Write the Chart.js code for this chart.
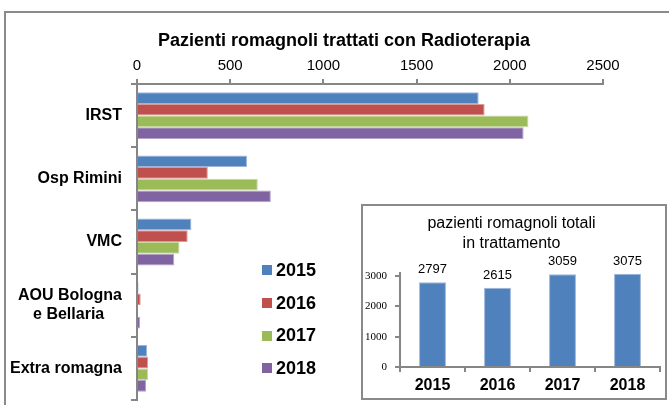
<!DOCTYPE html>
<html><head><meta charset="utf-8">
<script src="https://cdn.jsdelivr.net/npm/chart.js@4/dist/chart.umd.min.js"></script>
<style>
html,body{margin:0;padding:0;background:#fff;overflow:hidden;width:669px;height:405px;}
#frame{position:absolute;left:4px;top:11px;width:700px;height:500px;border:2px solid #8a8a8a;box-sizing:border-box;}
#main{position:absolute;left:0;top:0;}
#title{position:absolute;left:0;top:29px;width:688px;text-align:center;font:bold 18px "Liberation Sans",Arial,sans-serif;line-height:22px;color:#000;white-space:nowrap;}
#legend{position:absolute;left:262px;top:254px;font:bold 18px "Liberation Sans",Arial,sans-serif;color:#000;}
.li{display:flex;align-items:center;height:32.7px;}
.sw{width:10px;height:10px;margin-right:4px;}
#insetBox{position:absolute;left:361px;top:204px;width:306px;height:196px;border:2px solid #8a8a8a;box-sizing:border-box;background:#fff;}
#inset{position:absolute;left:0;top:0;}
</style></head>
<body>
<div id="frame"></div>
<canvas id="main" width="669" height="405"></canvas>
<div id="title"></div>
<div id="legend"></div>
<div id="insetBox"><canvas id="inset" width="302" height="192"></canvas></div>
<script>
const categories = ['IRST', 'Osp Rimini', 'VMC', ['AOU Bologna', 'e Bellaria\u00A0\u00A0\u00A0\u00A0'], 'Extra romagna'];
const years = ['2015', '2016', '2017', '2018'];
const v2015 = [1833, 590, 292, 8, 55];
const v2016 = [1865, 380, 272, 20, 60];
const v2017 = [2100, 648, 228, 5, 60];
const v2018 = [2074, 718, 200, 17, 49];
const totals = [2797, 2615, 3059, 3075];
const mainTicks = [0, 500, 1000, 1500, 2000, 2500];
const insetTicks = [0, 1000, 2000, 3000];
const mainTitle = 'Pazienti romagnoli trattati con Radioterapia';
const insetTitle = ['pazienti romagnoli totali', 'in trattamento'];

const colors = ['#4F81BD', '#C0504D', '#9BBB59', '#8064A2'];
const borders = ['#9DB6DA', '#DA9A98', '#C6DA9F', '#B3A2C9'];
const AXIS = '#868686';
const SANS = '"Liberation Sans", Arial, sans-serif';
const SERIF = '"Liberation Serif", "Times New Roman", serif';

document.getElementById('title').textContent = mainTitle;

const series = [v2015, v2016, v2017, v2018];
const mainChart = new Chart(document.getElementById('main'), {
  type: 'bar',
  data: {
    labels: categories,
    datasets: series.map((s, i) => ({
      label: years[i], data: s, backgroundColor: colors[i], borderColor: borders[i],
      borderWidth: 1, barPercentage: 1, categoryPercentage: 0.74
    }))
  },
  options: {
    indexAxis: 'y', responsive: false, animation: false, devicePixelRatio: 1,
    layout: { padding: { left: 0, right: 66, top: 57, bottom: 5 } },
    plugins: {
      legend: { display: false }, tooltip: { enabled: false }, title: { display: false }
    },
    scales: {
      x: {
        position: 'top', min: 0, max: 2500,
        afterBuildTicks: s => { s.ticks = mainTicks.map(v => ({ value: v })); },
        ticks: { color: '#000', font: { family: SANS, size: 15 }, padding: 4, callback: v => String(v) },
        grid: { drawOnChartArea: false, drawTicks: true, tickLength: 5, color: AXIS, lineWidth: 2 },
        border: { color: AXIS, width: 2 },
        afterFit: s => { s.height = 27; s.paddingLeft = 0; s.paddingRight = 0; }
      },
      y: {
        ticks: { color: '#000', font: { family: SANS, size: 16, weight: 'bold' }, padding: 9 },
        grid: { drawOnChartArea: false, drawTicks: true, tickLength: 6, color: AXIS, lineWidth: 2, offset: true },
        border: { color: AXIS, width: 2 },
        afterFit: s => { s.width = 137; s.paddingTop = 0; s.paddingBottom = 0; }
      }
    }
  }
});

// HTML legend built from the chart's own legend items
const leg = document.getElementById('legend');
mainChart.options.plugins.legend.labels.generateLabels(mainChart).forEach(item => {
  const d = document.createElement('div'); d.className = 'li';
  const sw = document.createElement('span'); sw.className = 'sw'; sw.style.background = item.fillStyle;
  const t = document.createElement('span'); t.textContent = item.text;
  d.appendChild(sw); d.appendChild(t); leg.appendChild(d);
});

const valueLabels = {
  id: 'valueLabels',
  afterDatasetsDraw(chart) {
    const ctx = chart.ctx;
    const meta = chart.getDatasetMeta(0);
    ctx.save();
    ctx.fillStyle = '#000';
    ctx.font = '13px ' + SANS;
    ctx.textAlign = 'center';
    ctx.textBaseline = 'alphabetic';
    meta.data.forEach((bar, i) => {
      ctx.fillText(String(chart.data.datasets[0].data[i]), bar.x, bar.y - 9);
    });
    ctx.restore();
  }
};

new Chart(document.getElementById('inset'), {
  type: 'bar',
  data: {
    labels: years,
    datasets: [{ label: 'totale', data: totals, backgroundColor: '#4F81BD', borderColor: '#9DB6DA',
      borderWidth: 1, barPercentage: 0.9, categoryPercentage: 0.46 }]
  },
  options: {
    responsive: false, animation: false, devicePixelRatio: 1,
    layout: { padding: { left: 0, right: 5, top: 0, bottom: 0 } },
    plugins: {
      legend: { display: false }, tooltip: { enabled: false },
      title: { display: true, text: insetTitle, color: '#000',
        font: { family: SANS, size: 16, weight: 'normal', lineHeight: 1.25 }, padding: { top: 8, bottom: 19 } }
    },
    scales: {
      x: {
        ticks: { color: '#000', font: { family: SANS, size: 16, weight: 'bold' }, padding: 4 },
        grid: { drawOnChartArea: false, drawTicks: true, tickLength: 5, color: AXIS, lineWidth: 2, offset: true },
        border: { color: AXIS, width: 2 },
        afterFit: s => { s.height = 31; s.paddingLeft = 0; s.paddingRight = 0; }
      },
      y: {
        min: 0, max: 3100,
        afterBuildTicks: s => { s.ticks = insetTicks.map(v => ({ value: v })); },
        ticks: { color: '#000', font: { family: SERIF, size: 11 }, padding: 8, callback: v => String(v) },
        grid: { drawOnChartArea: false, drawTicks: true, tickLength: 5, color: AXIS, lineWidth: 2 },
        border: { color: AXIS, width: 2 },
        afterFit: s => { s.width = 37; s.paddingTop = 0; s.paddingBottom = 0; }
      }
    }
  },
  plugins: [valueLabels]
});
</script>
</body></html>
